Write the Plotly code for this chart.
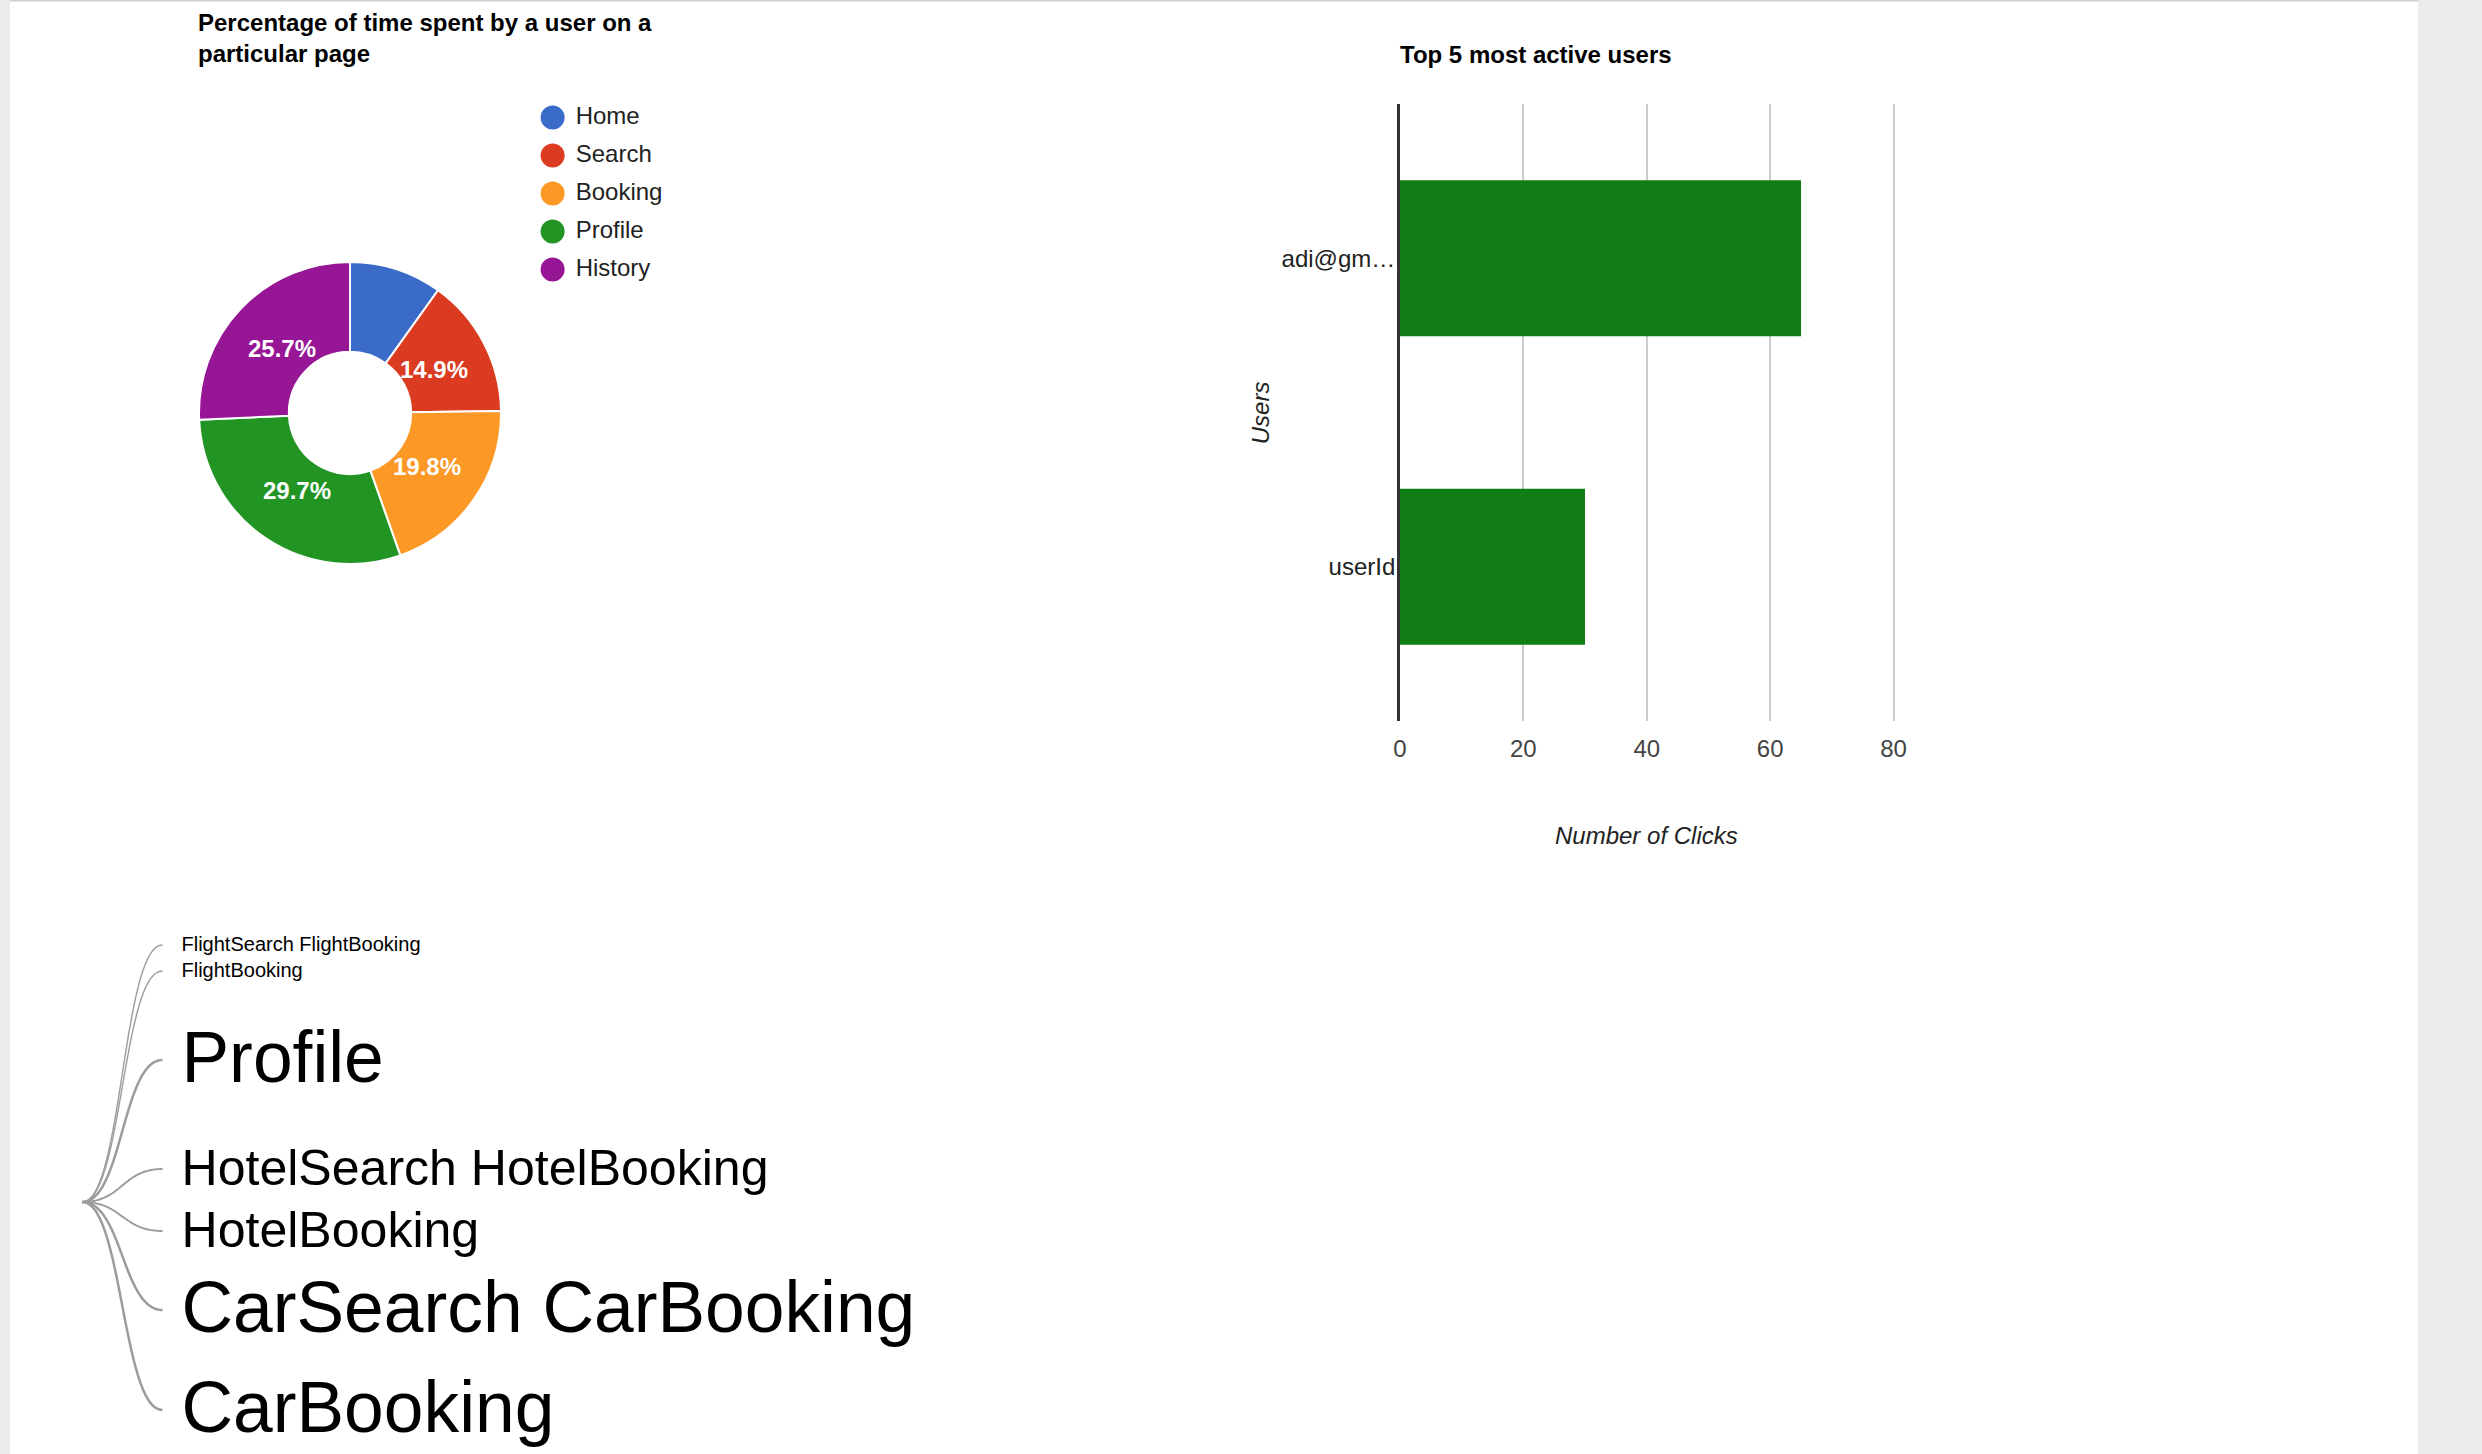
import numpy as np
import plotly.graph_objects as go

# ---------------- data ----------------
pages = ["Home", "Search", "Booking", "Profile", "History"]
time_share = [9.9, 14.9, 19.8, 29.7, 25.7]
page_colors = ["#3a6bc9", "#db3b21", "#fc9826", "#219424", "#961695"]

users = ["adi@gm…", "userId"]
clicks = [65, 30]
x_ticks = [0, 20, 40, 60, 80]

phrases = ["FlightSearch FlightBooking", "FlightBooking", "Profile",
           "HotelSearch HotelBooking", "HotelBooking",
           "CarSearch CarBooking", "CarBooking"]
phrase_counts = [1, 1, 12, 6, 6, 12, 12]

# ---------------- layout constants (pixels) ----------------
W, H = 2482, 1454
FONT = "Arial, Liberation Sans, Helvetica, sans-serif"
# horizontal calibration of the rendered page
XR0 = 8.0
XSPAN = 0.9914 * W


def fx(px):
    """target pixel x -> paper fraction"""
    return (px - XR0) / XSPAN


fig = go.Figure()
px_axis = dict(visible=False, fixedrange=True, autorange=False, showgrid=False, zeroline=False)

# ---- donut ----
pie_cx, pie_cy, pie_r = 350, 413, 151
fig.add_trace(go.Pie(
    labels=pages, values=time_share, hole=0.405, sort=False, direction="clockwise",
    rotation=0, marker=dict(colors=page_colors, line=dict(color="white", width=2)),
    textinfo="none",
    domain=dict(x=[fx(pie_cx - pie_r), fx(pie_cx + pie_r)],
                y=[1 - (pie_cy + pie_r) / H, 1 - (pie_cy - pie_r) / H]),
    showlegend=False, hoverinfo="label+percent",
))

# slice labels placed at the mid-angle of each slice
total = float(sum(time_share))
cum = np.cumsum([0] + time_share)
annotations = []
label_r = 94
for i, v in enumerate(time_share):
    share = v / total
    if share < 0.10:
        continue
    mid = np.deg2rad(360 * (cum[i] + v / 2) / total)
    lx = pie_cx + label_r * np.sin(mid)
    ly = pie_cy - label_r * np.cos(mid)
    annotations.append(dict(
        text="<b>%.1f%%</b>" % (100 * share), x=lx, y=ly, xref="x3", yref="y3",
        xanchor="center", yanchor="middle", showarrow=False,
        font=dict(family=FONT, size=24, color="white")))

# ---- custom circular legend ----
leg_y = [117.5 + 38 * i for i in range(len(pages))]
fig.add_trace(go.Scatter(
    x=[552] * len(pages), y=leg_y, mode="markers", xaxis="x3", yaxis="y3",
    marker=dict(size=24, color=page_colors, line=dict(width=0)),
    showlegend=False, hoverinfo="skip"))
fig.add_trace(go.Scatter(
    x=[575] * len(pages), y=leg_y, mode="text", text=pages, textposition="middle right",
    textfont=dict(family=FONT, size=24, color="#222222"), xaxis="x3", yaxis="y3",
    showlegend=False, hoverinfo="skip"))

# ---- bar chart ----
fig.add_trace(go.Bar(
    x=clicks, y=users, orientation="h", xaxis="x2", yaxis="y2",
    marker=dict(color="#107e15", line=dict(width=0)), showlegend=False))

# ---- word tree ----
root = (83, 1202)
end_x, text_x = 163, 182
phrase_y = [943, 969, 1058, 1167, 1229, 1308, 1408]
sizes = [20 * c ** 0.512 for c in phrase_counts]
t = np.linspace(0, 1, 60)
for yy, c in zip(phrase_y, phrase_counts):
    x0, y0 = root
    x1, y1 = end_x, yy + 2
    mx = (x0 + x1) / 2
    bx = (1 - t) ** 3 * x0 + 3 * (1 - t) ** 2 * t * mx + 3 * (1 - t) * t ** 2 * mx + t ** 3 * x1
    by = (1 - t) ** 3 * y0 + 3 * (1 - t) ** 2 * t * y0 + 3 * (1 - t) * t ** 2 * y1 + t ** 3 * y1
    fig.add_trace(go.Scatter(
        x=bx, y=by, mode="lines", xaxis="x3", yaxis="y3",
        line=dict(color="#9c9c9c", width=1.3 + 0.1 * c, shape="spline"),
        showlegend=False, hoverinfo="skip"))
text_y = [yy + 0.06 * s + 2 for yy, s in zip(phrase_y, sizes)]
fig.add_trace(go.Scatter(
    x=[text_x] * len(phrases), y=text_y, mode="text", text=phrases,
    textposition="middle right", xaxis="x3", yaxis="y3",
    textfont=dict(family=FONT, size=sizes, color="#000000"),
    showlegend=False, hoverinfo="skip"))

# ---------------- layout ----------------
bar_left, bar_right = 1396.7, 1889.0
bar_top, bar_bottom = 104, 721
x_max = 80.0
x_pad = 1.0   # keeps the gridline at 80 inside the plot area
bar_right_ext = bar_left + (bar_right - bar_left) * (x_max + x_pad) / x_max

annotations += [
    dict(text="<b>Percentage of time spent by a user on a<br>particular page</b>",
         x=196, y=37.5, xref="x3", yref="y3", xanchor="left", yanchor="middle",
         align="left", showarrow=False, font=dict(family=FONT, size=24, color="#000000")),
    dict(text="<b>Top 5 most active users</b>",
         x=1395, y=54, xref="x3", yref="y3", xanchor="left", yanchor="middle",
         showarrow=False, font=dict(family=FONT, size=24, color="#000000")),
    dict(text="<i>Number of Clicks</i>", x=(bar_left + bar_right) / 2, y=835,
         xref="x3", yref="y3", xanchor="center", yanchor="middle", showarrow=False,
         font=dict(family=FONT, size=24, color="#222222")),
    dict(text="<i>Users</i>", x=1258, y=(bar_top + bar_bottom) / 2, textangle=-90,
         xref="x3", yref="y3", xanchor="center", yanchor="middle", showarrow=False,
         font=dict(family=FONT, size=24, color="#222222")),
]

shapes = [
    dict(type="rect", xref="paper", yref="paper", x0=-0.01, x1=fx(11), y0=0, y1=1,
         fillcolor="#ebebeb", line=dict(width=0), layer="below"),
    dict(type="rect", xref="paper", yref="paper", x0=fx(2412), x1=1.02, y0=0, y1=1,
         fillcolor="#ebebeb", line=dict(width=0), layer="below"),
    dict(type="rect", xref="paper", yref="paper", x0=fx(11), x1=fx(2412),
         y0=1 - 1.5 / H, y1=1, fillcolor="#cfcfcf", line=dict(width=0), layer="below"),
]

fig.update_layout(
    width=W, height=H, margin=dict(l=0, r=0, t=0, b=0, pad=0),
    paper_bgcolor="white", plot_bgcolor="rgba(0,0,0,0)",
    font=dict(family=FONT, color="#222222"),
    xaxis2=dict(domain=[fx(bar_left), fx(bar_right_ext)], anchor="y2",
                range=[0, x_max + x_pad],
                tickvals=x_ticks, showgrid=True, gridcolor="#cccccc", gridwidth=2,
                zeroline=False, showline=False, ticks="",
                tickfont=dict(family=FONT, size=24, color="#444444"),
                ticklabelstandoff=11, fixedrange=True),
    yaxis2=dict(domain=[1 - bar_bottom / H, 1 - bar_top / H], anchor="x2",
                autorange="reversed", showline=True, linecolor="#333333", linewidth=2.5,
                showgrid=False, ticks="", tickfont=dict(family=FONT, size=24, color="#222222"),
                ticklabelstandoff=-3, fixedrange=True),
    xaxis3=dict(domain=[0, 1], anchor="y3", range=[XR0, XR0 + XSPAN], **px_axis),
    yaxis3=dict(domain=[0, 1], anchor="x3", range=[H, 0], **px_axis),
    bargap=0.494,
    annotations=annotations, shapes=shapes, showlegend=False,
)

fig.write_html("out.html")
